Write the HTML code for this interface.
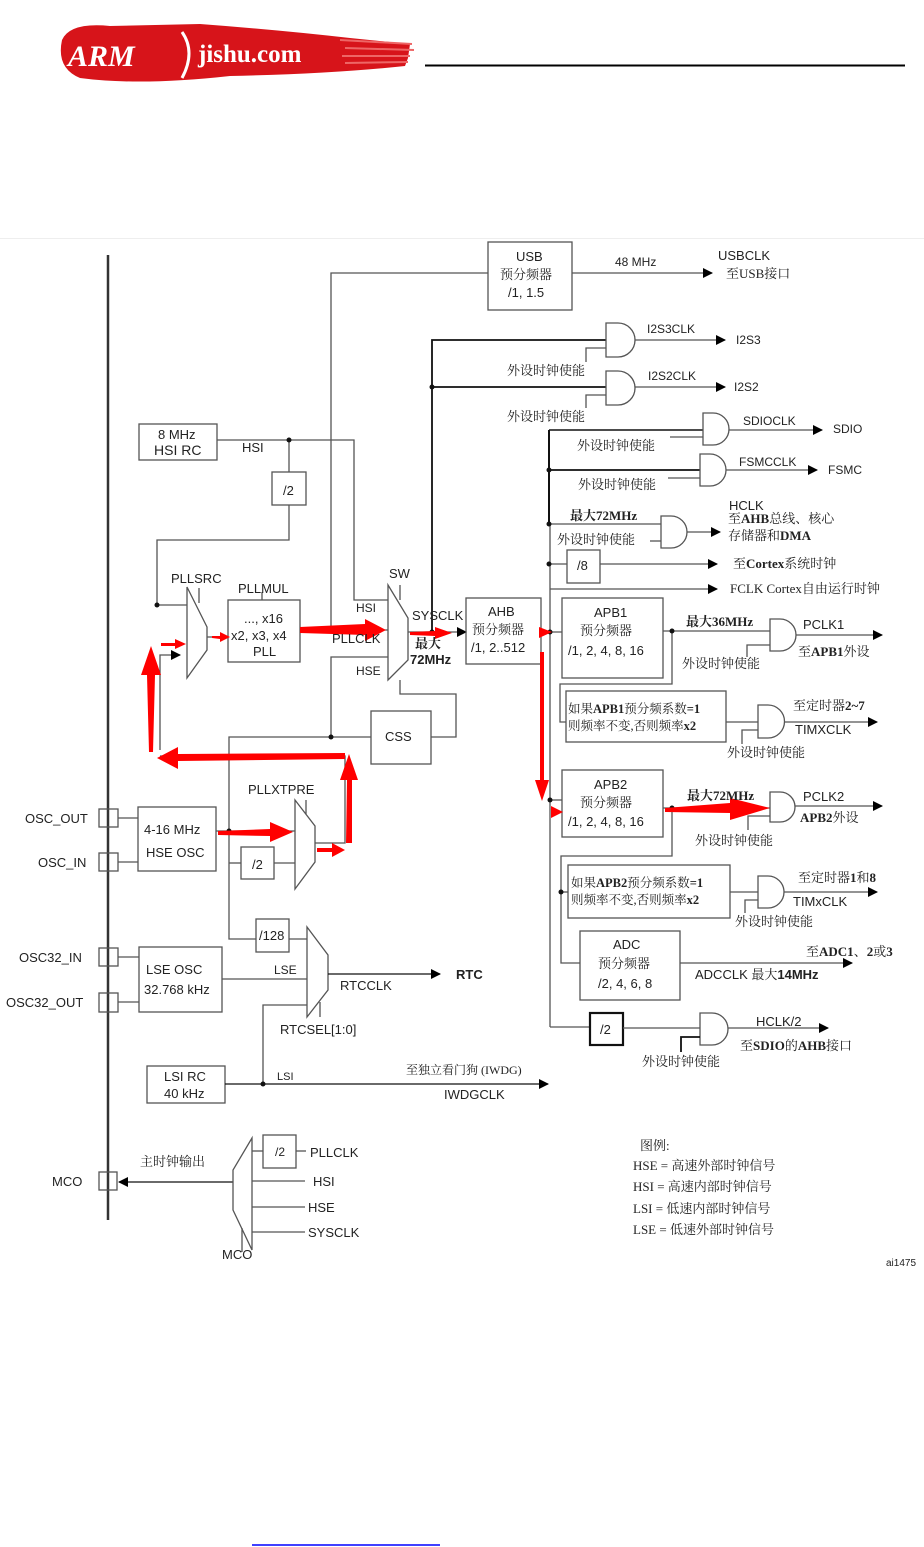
<!DOCTYPE html>
<html><head><meta charset="utf-8"><style>
html,body{margin:0;padding:0;background:#fff;}
svg{display:block;}
text{font-family:"Liberation Sans","Noto Sans CJK SC",sans-serif;font-size:13px;fill:#222;}
.c{font-family:"Liberation Serif","Noto Serif CJK SC",serif;font-size:13px;}
.b{font-weight:bold;}
</style></head><body>
<svg width="924" height="1547" viewBox="0 0 924 1547" xmlns="http://www.w3.org/2000/svg">
<defs>
<marker id="a" markerWidth="10" markerHeight="10" refX="9" refY="5" orient="auto" markerUnits="userSpaceOnUse"><path d="M0,0 L10,5 L0,10 z" fill="#000"/></marker>
</defs>
<!-- header logo -->
<path d="M62,40 Q70,22 110,26 L200,24 Q280,30 350,38 L410,44 L408,58 L405,66 Q330,74 230,76 Q140,86 80,78 Q56,68 62,40 z" fill="#d7141a"/>
<path d="M340,40 L412,44 M345,48 L414,50 M342,56 L410,56 M345,63 L408,62" stroke="#e66" stroke-width="2"/>
<text x="68" y="66" style="font-size:30px;font-weight:bold;font-style:italic;fill:#fff;font-family:'Liberation Serif',serif">ARM</text>
<path d="M182,32 Q196,52 182,78" stroke="#fff" stroke-width="3" fill="none"/>
<text x="198" y="62" style="font-size:25px;font-weight:bold;fill:#fff;font-family:'Liberation Serif',serif">jishu.com</text>
<line x1="425" y1="65.5" x2="905" y2="65.5" stroke="#000" stroke-width="2"/>
<line x1="0" y1="238.5" x2="924" y2="238.5" stroke="#eee"/>

<g stroke="#555" stroke-width="1.3" fill="none">
<!-- left bar -->
<line x1="108" y1="255" x2="108" y2="1220" stroke="#333" stroke-width="2.5"/>
<!-- HSI -->
<rect x="139" y="424" width="78" height="36"/>
<polyline points="217,440 354,440 354,600 388,600"/>
<line x1="289" y1="440" x2="289" y2="472"/>
<rect x="272" y="472" width="34" height="33"/>
<polyline points="289,505 289,540 157,540 157,605 187,605"/>
<!-- PLLSRC mux -->
<path d="M187,587 L207,627 L207,650 L187,678 z"/>
<line x1="199" y1="588" x2="199" y2="603"/>
<line x1="207" y1="637" x2="228" y2="637"/>
<rect x="228" y="600" width="72" height="62"/>
<line x1="262" y1="592" x2="262" y2="600"/>
<line x1="300" y1="630" x2="388" y2="630"/>
<polyline points="160,750 160,655 180,655" marker-end="url(#a)"/>
<!-- USB -->
<polyline points="331,630 331,273 488,273"/>
<rect x="488" y="242" width="84" height="68"/>
<line x1="572" y1="273" x2="712" y2="273" marker-end="url(#a)"/>
<polyline points="331,737 331,657 388,657"/>
<!-- SW mux -->
<path d="M388,585 L408,618 L408,660 L388,680 z"/>
<line x1="400" y1="585" x2="400" y2="600"/>
<line x1="408" y1="632" x2="466" y2="632" marker-end="url(#a)"/>
<polyline points="400,680 400,694 456,694 456,737 431,737"/>
<rect x="371" y="711" width="60" height="53"/>
<polyline points="371,737 229,737 229,939 256,939"/>
<!-- I2S -->
<polyline points="432,632 432,340 606,340" stroke="#111" stroke-width="1.8"/>
<line x1="432" y1="387" x2="606" y2="387" stroke="#111" stroke-width="1.8"/>
<path d="M606,323 h12 a17,17 0 0 1 0,34 h-12 z"/>
<path d="M606,371 h12 a17,17 0 0 1 0,34 h-12 z"/>
<line x1="635" y1="340" x2="725" y2="340" marker-end="url(#a)"/>
<line x1="635" y1="387" x2="725" y2="387" marker-end="url(#a)"/>
<polyline points="586,362 586,348 606,348"/>
<polyline points="586,408 586,395 606,395"/>
<!-- AHB bus -->
<line x1="549" y1="430" x2="549" y2="525" stroke="#111" stroke-width="2"/>
<line x1="550" y1="525" x2="550" y2="1027"/>
<line x1="549" y1="430" x2="703" y2="430" stroke="#111" stroke-width="1.5"/>
<path d="M703,413 h10 a16,16 0 0 1 0,32 h-10 z"/>
<line x1="729" y1="430" x2="822" y2="430" marker-end="url(#a)"/>
<line x1="670" y1="437" x2="703" y2="437"/>
<line x1="549" y1="470" x2="700" y2="470" stroke="#111" stroke-width="1.8"/>
<path d="M700,454 h10 a16,16 0 0 1 0,32 h-10 z"/>
<line x1="726" y1="470" x2="817" y2="470" marker-end="url(#a)"/>
<line x1="668" y1="478" x2="700" y2="478"/>
<line x1="549" y1="524" x2="661" y2="524"/>
<path d="M661,516 h10 a16,16 0 0 1 0,32 h-10 z"/>
<line x1="687" y1="532" x2="720" y2="532" marker-end="url(#a)"/>
<line x1="650" y1="541" x2="661" y2="541"/>
<line x1="549" y1="564" x2="567" y2="564"/>
<rect x="567" y="550" width="33" height="33"/>
<line x1="600" y1="564" x2="717" y2="564" marker-end="url(#a)"/>
<line x1="550" y1="589" x2="717" y2="589" marker-end="url(#a)"/>
<!-- AHB -->
<rect x="466" y="598" width="75" height="66"/>
<line x1="541" y1="632" x2="562" y2="632"/>
<!-- APB1 -->
<rect x="562" y="598" width="101" height="80"/>
<line x1="663" y1="631" x2="770" y2="631"/>
<path d="M770,619 h10 a16,16 0 0 1 0,32 h-10 z"/>
<line x1="796" y1="635" x2="882" y2="635" marker-end="url(#a)"/>
<polyline points="747,657 747,645 770,645"/>
<polyline points="672,631 672,684 560,684 560,722 566,722"/>
<rect x="566" y="691" width="160" height="51"/>
<line x1="726" y1="722" x2="758" y2="722"/>
<path d="M758,705 h10 a16.5,16.5 0 0 1 0,33 h-10 z"/>
<line x1="784" y1="722" x2="877" y2="722" marker-end="url(#a)"/>
<polyline points="742,744 742,730 758,730"/>
<!-- APB2 -->
<line x1="550" y1="800" x2="562" y2="800"/>
<rect x="562" y="770" width="101" height="67"/>
<line x1="663" y1="808" x2="770" y2="808"/>
<path d="M770,792 h10 a15,15 0 0 1 0,30 h-10 z"/>
<line x1="795" y1="806" x2="882" y2="806" marker-end="url(#a)"/>
<polyline points="748,830 748,816 770,816"/>
<polyline points="672,808 672,856 561,856 561,963 580,963"/>
<line x1="561" y1="892" x2="568" y2="892"/>
<rect x="568" y="865" width="162" height="53"/>
<line x1="730" y1="892" x2="758" y2="892"/>
<path d="M758,876 h10 a16,16 0 0 1 0,32 h-10 z"/>
<line x1="784" y1="892" x2="877" y2="892" marker-end="url(#a)"/>
<polyline points="745,913 745,900 758,900"/>
<rect x="580" y="931" width="100" height="69"/>
<line x1="680" y1="963" x2="852" y2="963" marker-end="url(#a)"/>
<polyline points="550,1027 590,1027"/>
<rect x="590" y="1013" width="33" height="32" stroke="#111" stroke-width="2.2"/>
<line x1="623" y1="1028" x2="700" y2="1028"/>
<path d="M700,1013 h12 a16,16 0 0 1 0,32 h-12 z"/>
<line x1="728" y1="1028" x2="828" y2="1028" marker-end="url(#a)"/>
<polyline points="681,1052 681,1037 700,1037" stroke="#111" stroke-width="1.8"/>
<!-- HSE -->
<rect x="99" y="809" width="19" height="18"/>
<rect x="99" y="853" width="19" height="18"/>
<line x1="118" y1="818" x2="138" y2="818"/>
<line x1="118" y1="862" x2="138" y2="862"/>
<rect x="138" y="807" width="78" height="64"/>
<line x1="216" y1="831" x2="295" y2="831"/>
<polyline points="229,863 241,863"/>
<rect x="241" y="847" width="33" height="32"/>
<line x1="274" y1="863" x2="295" y2="863"/>
<path d="M295,800 L315,826 L315,862 L295,889 z"/>
<line x1="306" y1="800" x2="306" y2="814"/>
<polyline points="315,843 345,843 345,756 160,756"/>
<!-- LSE -->
<rect x="99" y="948" width="19" height="18"/>
<rect x="99" y="993" width="19" height="19"/>
<line x1="118" y1="957" x2="139" y2="957"/>
<line x1="118" y1="1002" x2="139" y2="1002"/>
<rect x="139" y="947" width="83" height="65"/>
<line x1="222" y1="979" x2="307" y2="979"/>
<rect x="256" y="919" width="33" height="33"/>
<line x1="289" y1="939" x2="307" y2="939"/>
<path d="M307,927 L328,955 L328,990 L307,1017 z"/>
<line x1="320" y1="1002" x2="320" y2="1017"/>
<line x1="328" y1="974" x2="440" y2="974" marker-end="url(#a)" stroke="#111"/>
<polyline points="307,1005 263,1005 263,1084"/>
<rect x="147" y="1066" width="78" height="37"/>
<line x1="225" y1="1084" x2="548" y2="1084" stroke="#111" marker-end="url(#a)"/>
<!-- MCO -->
<rect x="99" y="1172" width="18" height="18"/>
<line x1="233" y1="1182" x2="119" y2="1182" marker-end="url(#a)" stroke="#111"/>
<path d="M252,1138 L233,1170 L233,1210 L252,1250 z"/>
<line x1="242" y1="1228" x2="242" y2="1252"/>
<line x1="252" y1="1151" x2="263" y2="1151"/>
<rect x="263" y="1135" width="33" height="33"/>
<line x1="296" y1="1151" x2="306" y2="1151"/>
<line x1="252" y1="1181" x2="305" y2="1181"/>
<line x1="252" y1="1207" x2="305" y2="1207"/>
<line x1="252" y1="1232" x2="305" y2="1232"/>
</g>
<!-- dots -->
<g fill="#111">
<circle cx="289" cy="440" r="2.5"/><circle cx="157" cy="605" r="2.5"/><circle cx="331" cy="630" r="2.5"/>
<circle cx="432" cy="632" r="2.5"/><circle cx="432" cy="387" r="2.5"/><circle cx="331" cy="737" r="2.5"/>
<circle cx="549" cy="470" r="2.5"/><circle cx="549" cy="524" r="2.5"/><circle cx="549" cy="564" r="2.5"/>
<circle cx="550" cy="632" r="2.5"/><circle cx="672" cy="631" r="2.5"/><circle cx="550" cy="800" r="2.5"/>
<circle cx="672" cy="808" r="2.5"/><circle cx="561" cy="892" r="2.5"/><circle cx="229" cy="831" r="2.5"/>
<circle cx="263" cy="1084" r="2.5"/>
</g>
<!-- red arrows -->
<g fill="#f00">
<polygon points="300,627 365,624 365,619 386,630 365,641 365,635 300,633"/>
<polygon points="410,632 435,631 435,627 452,633 435,639 435,636 410,635"/>
<polygon points="212,636 220,636 220,632 230,637 220,642 220,639 212,638"/>
<polygon points="161,643 175,643 175,639 186,644 175,649 175,646 161,646"/>
<polygon points="149,752 147,675 141,675 151,646 161,675 155,675 153,752"/>
<polygon points="345,753 178,754 178,747 157,758 178,769 178,761 345,759"/>
<polygon points="346,843 347,780 340,780 349,754 358,780 352,780 352,843"/>
<polygon points="218,831 270,829 270,822 293,832 270,842 270,836 218,835"/>
<polygon points="317,848 332,848 332,843 345,850 332,857 332,852 317,852"/>
<polygon points="540,652 540,780 535,780 542,801 549,780 544,780 544,652"/>
<polygon points="539,627 552,632 539,638"/>
<polygon points="551,806 563,812 551,818"/>
<polygon points="665,808 730,803 730,798 770,808 730,820 730,813 665,812"/>
</g>
<!-- texts -->
<g>
<text x="158" y="439" >8 MHz</text><text x="154" y="455" style="font-size:14px">HSI RC</text>
<text x="242" y="452">HSI</text>
<text x="283" y="495">/2</text>
<text x="171" y="583">PLLSRC</text>
<text x="238" y="593">PLLMUL</text>
<text x="244" y="623">..., x16</text>
<text x="231" y="640">x2, x3, x4</text>
<text x="253" y="656">PLL</text>
<text x="356" y="612" style="font-size:12px">HSI</text>
<text x="332" y="643">PLLCLK</text>
<text x="356" y="675" style="font-size:12px">HSE</text>
<text x="389" y="578">SW</text>
<text x="412" y="620">SYSCLK</text>
<text x="415" y="648" class="c b">最大</text>
<text x="410" y="664" class="b">72MHz</text>
<text x="385" y="741">CSS</text>
<text x="516" y="261">USB</text>
<text x="500" y="279" class="c">预分频器</text>
<text x="508" y="297">/1, 1.5</text>
<text x="615" y="266" style="font-size:12px">48 MHz</text>
<text x="718" y="260">USBCLK</text>
<text x="726" y="278" class="c">至USB接口</text>
<text x="647" y="333" style="font-size:12px">I2S3CLK</text>
<text x="736" y="344" style="font-size:12px">I2S3</text>
<text x="507" y="375" class="c">外设时钟使能</text>
<text x="648" y="380" style="font-size:12px">I2S2CLK</text>
<text x="734" y="391" style="font-size:12px">I2S2</text>
<text x="507" y="421" class="c">外设时钟使能</text>
<text x="743" y="425" style="font-size:12px">SDIOCLK</text>
<text x="833" y="433" style="font-size:12px">SDIO</text>
<text x="577" y="450" class="c">外设时钟使能</text>
<text x="739" y="466" style="font-size:12px">FSMCCLK</text>
<text x="828" y="474" style="font-size:12px">FSMC</text>
<text x="578" y="489" class="c">外设时钟使能</text>
<text x="570" y="520" class="c b">最大72MHz</text>
<text x="557" y="544" class="c">外设时钟使能</text>
<text x="729" y="510">HCLK</text>
<text x="728" y="523" class="c"><tspan>至</tspan><tspan class="b">AHB</tspan>总线、核心</text>
<text x="728" y="540" class="c">存储器和<tspan class="b">DMA</tspan></text>
<text x="577" y="570">/8</text>
<text x="733" y="568" class="c">至<tspan class="b">Cortex</tspan>系统时钟</text>
<text x="730" y="593" class="c">FCLK Cortex自由运行时钟</text>
<text x="488" y="616">AHB</text>
<text x="472" y="634" class="c">预分频器</text>
<text x="471" y="652">/1, 2..512</text>
<text x="594" y="617">APB1</text>
<text x="580" y="635" class="c">预分频器</text>
<text x="568" y="655">/1, 2, 4, 8, 16</text>
<text x="686" y="626" class="c b">最大36MHz</text>
<text x="803" y="629">PCLK1</text>
<text x="798" y="656" class="c">至<tspan class="b">APB1</tspan>外设</text>
<text x="682" y="668" class="c">外设时钟使能</text>
<text x="568" y="713" class="c" style="font-size:12.5px">如果<tspan class="b">APB1</tspan>预分频系数<tspan class="b">=1</tspan></text>
<text x="568" y="730" class="c" style="font-size:12.5px">则频率不变,否则频率<tspan class="b">x2</tspan></text>
<text x="793" y="710" class="c">至定时器<tspan class="b">2~7</tspan></text>
<text x="795" y="734">TIMXCLK</text>
<text x="727" y="757" class="c">外设时钟使能</text>
<text x="594" y="789">APB2</text>
<text x="580" y="807" class="c">预分频器</text>
<text x="568" y="826">/1, 2, 4, 8, 16</text>
<text x="687" y="800" class="c b">最大72MHz</text>
<text x="803" y="801">PCLK2</text>
<text x="800" y="822" class="c"><tspan class="b">APB2</tspan>外设</text>
<text x="695" y="845" class="c">外设时钟使能</text>
<text x="571" y="887" class="c" style="font-size:12.5px">如果<tspan class="b">APB2</tspan>预分频系数<tspan class="b">=1</tspan></text>
<text x="571" y="904" class="c" style="font-size:12.5px">则频率不变,否则频率<tspan class="b">x2</tspan></text>
<text x="798" y="882" class="c">至定时器<tspan class="b">1</tspan>和<tspan class="b">8</tspan></text>
<text x="793" y="906">TIMxCLK</text>
<text x="735" y="926" class="c">外设时钟使能</text>
<text x="613" y="949">ADC</text>
<text x="598" y="968" class="c">预分频器</text>
<text x="598" y="988">/2, 4, 6, 8</text>
<text x="806" y="956" class="c">至<tspan class="b">ADC1</tspan>、<tspan class="b">2</tspan>或<tspan class="b">3</tspan></text>
<text x="695" y="979">ADCCLK <tspan class="c">最大</tspan><tspan class="b">14MHz</tspan></text>
<text x="600" y="1034">/2</text>
<text x="756" y="1026">HCLK/2</text>
<text x="740" y="1050" class="c">至<tspan class="b">SDIO</tspan>的<tspan class="b">AHB</tspan>接口</text>
<text x="642" y="1066" class="c">外设时钟使能</text>
<text x="25" y="823">OSC_OUT</text>
<text x="38" y="867">OSC_IN</text>
<text x="144" y="834">4-16 MHz</text>
<text x="146" y="857">HSE OSC</text>
<text x="252" y="869">/2</text>
<text x="248" y="794">PLLXTPRE</text>
<text x="19" y="962">OSC32_IN</text>
<text x="6" y="1007">OSC32_OUT</text>
<text x="146" y="974">LSE OSC</text>
<text x="144" y="994">32.768 kHz</text>
<text x="259" y="940">/128</text>
<text x="274" y="974" style="font-size:12px">LSE</text>
<text x="340" y="990">RTCCLK</text>
<text x="456" y="979" class="b">RTC</text>
<text x="280" y="1034">RTCSEL[1:0]</text>
<text x="164" y="1081">LSI RC</text>
<text x="164" y="1098">40 kHz</text>
<text x="277" y="1080" style="font-size:11px">LSI</text>
<text x="406" y="1074" class="c" style="font-size:12px">至独立看门狗 (IWDG)</text>
<text x="444" y="1099">IWDGCLK</text>
<text x="52" y="1186">MCO</text>
<text x="140" y="1166" class="c">主时钟输出</text>
<text x="275" y="1156" style="font-size:12px">/2</text>
<text x="310" y="1157">PLLCLK</text>
<text x="313" y="1186">HSI</text>
<text x="308" y="1212">HSE</text>
<text x="308" y="1237">SYSCLK</text>
<text x="222" y="1259">MCO</text>
<text x="640" y="1150" class="c">图例:</text>
<text x="633" y="1170" class="c">HSE = 高速外部时钟信号</text>
<text x="633" y="1191" class="c">HSI = 高速内部时钟信号</text>
<text x="633" y="1213" class="c">LSI = 低速内部时钟信号</text>
<text x="633" y="1234" class="c">LSE = 低速外部时钟信号</text>
<text x="886" y="1266" style="font-size:10px">ai1475</text>
</g>
<line x1="252" y1="1545" x2="440" y2="1545" stroke="#00f" stroke-width="1.5"/>
</svg>
</body></html>
